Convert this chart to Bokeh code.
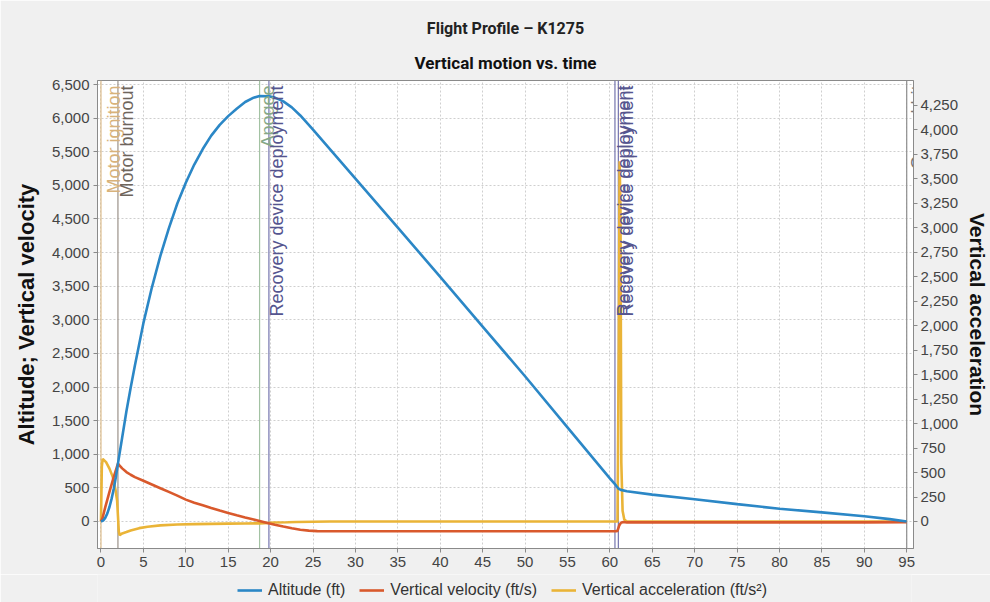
import math

from bokeh.core.properties import value
from bokeh.embed import file_html
from bokeh.layouts import column
from bokeh.models import (FixedTicker, Legend, LegendItem, LinearAxis,
                          NumeralTickFormatter, Range1d, Span, Title)
from bokeh.plotting import figure
from bokeh.resources import INLINE

# ---- flight data -----------------------------------------------------------
# altitude (ft) vs time (s)
t_alt = [0, 0.25, 0.5, 0.75, 1.0, 1.25, 1.5, 1.75, 2.0, 2.5, 3.0, 3.5, 4.0,
         5.0, 6.0, 7.0, 8.0, 9.0, 10.0, 11.0, 12.0, 13.0, 14.0, 15.0, 16.0,
         17.0, 18.0, 18.7, 19.8, 20.5, 21.5, 22.5, 23.5, 25.0, 30.0, 35.0,
         40.0, 45.0, 50.0, 55.0, 60.0, 60.7, 61.0, 61.3, 62.0, 65.0, 70.0,
         75.0, 80.0, 85.0, 90.0, 93.0, 95.0]
altitude = [0, 13, 54, 121, 215, 336, 484, 658, 860, 1250, 1640, 1990, 2320,
            2950, 3480, 3950, 4360, 4730, 5040, 5310, 5540, 5740, 5900, 6030,
            6140, 6240, 6305, 6330, 6325, 6305, 6250, 6160, 6040, 5830, 5100,
            4370, 3640, 2900, 2160, 1400, 640, 540, 490, 470, 450, 400, 330,
            258, 190, 135, 78, 35, 0]

# vertical velocity (ft/s) vs time (s)
t_vel = [0, 0.2, 0.5, 1.0, 1.5, 2.0, 2.2, 2.5, 3.0, 3.5, 4.0, 5.0, 6.0, 7.0,
         8.0, 9.0, 10.0, 11.0, 12.0, 13.0, 14.0, 15.0, 16.0, 17.0, 18.0, 18.7,
         19.5, 20.5, 21.5, 22.5, 23.5, 24.5, 25.5, 27.0, 30.0, 40.0, 50.0,
         60.0, 60.7, 60.9, 61.1, 61.3, 61.6, 62.0, 70.0, 80.0, 90.0, 95.0]
velocity = [0, 60, 210, 440, 660, 860, 830, 790, 735, 695, 660, 605, 550, 495,
            440, 385, 325, 280, 240, 200, 162, 126, 92, 60, 30, 8,
            -20, -48, -75, -100, -122, -136, -143, -146, -146, -146, -146,
            -146, -146, -140, -60, -20, -8, -14, -14, -13, -13, -10]

# vertical acceleration (ft/s^2) vs time (s)
t_acc = [0, 0.1, 0.2, 0.6, 1.0, 1.4, 1.7, 1.9, 2.0, 2.1, 2.2, 2.5, 3.0, 3.5,
         4.5, 5.5, 7.0, 9.0, 11.0, 13.0, 15.0, 17.0, 18.7, 19.8, 20.5, 22.0,
         23.0, 25.0, 27.0, 30.0, 40.0, 50.0, 60.0, 60.9, 61.05, 61.15, 61.25,
         61.35, 61.5, 61.7, 62.0, 70.0, 80.0, 90.0, 95.0]
accel = [0, 560, 640, 606, 540, 453, 330, 215, 60, -100, -140, -122, -108,
         -92, -68, -53, -40, -31, -27, -24, -22, -20, -19, -14, -10, -8, -6,
         -3, 0, 0, 0, 0, 0, 0, 1800, 3680, 3200, 600, 110, 20, 0, 0, 0, 0, 0]

# flight events
event_times = [0.0, 2.0, 18.7, 19.8, 60.6, 61.0, 95.0]
event_names = ["Motor ignition", "Motor burnout", "Apogee",
               "Recovery device deployment", "Recovery device deployment",
               "Recovery device deployment", "Ground hit"]
event_line_colors = ["#dcbc8a", "#9a9189", "#a3c2a3", "#7474ae", "#7474ae",
                     "#7474ae", "#8c8c8c"]
event_text_colors = ["#d8b27a", "#6e655c", "#86a886", "#55558f", "#55558f",
                     "#55558f", "#777777"]
# horizontal gap (px) between each marker line and its label baseline
event_label_gap = [13, 9, 8, 8, 9, 9, 11]

# axis ticks
x_ticks = list(range(0, 96, 5))
left_ticks = list(range(0, 6501, 500))
right_ticks = list(range(0, 4251, 250))

# ---- styling ---------------------------------------------------------------
BLUE = "#2b87c6"
ORANGE = "#d9592c"
YELLOW = "#eab437"
BG = "#f0f0f0"
FONT = "Liberation Sans"

X0, X1 = -0.41, 95.8
Y0, Y1 = -402, 6560
A0, A1 = -276, 4505
FRAME_W, FRAME_H = 816, 468

p = figure(frame_width=FRAME_W, frame_height=FRAME_H, output_backend="svg",
           toolbar_location=None,
           x_range=Range1d(X0, X1), y_range=Range1d(Y0, Y1),
           min_border_left=97, min_border_right=77, min_border_top=80,
           min_border_bottom=26)
p.extra_y_ranges = {"acc": Range1d(A0, A1)}

p.background_fill_color = "white"
p.border_fill_color = BG
p.outline_line_color = "#8a8a8a"

p.xgrid.grid_line_color = "#cfcfcf"
p.xgrid.grid_line_dash = "2 2"
p.ygrid.grid_line_color = "#cfcfcf"
p.ygrid.grid_line_dash = "2 2"

right_axis = LinearAxis(y_range_name="acc", axis_label="Vertical acceleration")
p.add_layout(right_axis, "right")

p.xaxis.ticker = FixedTicker(ticks=x_ticks)
p.yaxis[0].ticker = FixedTicker(ticks=left_ticks)
right_axis.ticker = FixedTicker(ticks=right_ticks)
p.yaxis[0].axis_label = "Altitude; Vertical velocity"

for ax in [p.xaxis[0], p.yaxis[0], right_axis]:
    ax.formatter = NumeralTickFormatter(format="0,0")
    ax.axis_line_color = "#8a8a8a"
    ax.major_tick_line_color = "#8a8a8a"
    ax.major_tick_out = 4
    ax.major_tick_in = 0
    ax.minor_tick_line_color = None
    ax.major_label_text_font = FONT
    ax.major_label_text_font_size = "15px"
    ax.major_label_text_color = "#444444"
    ax.major_label_standoff = 4
    ax.axis_label_text_font = FONT
    ax.axis_label_text_font_size = "21px"
    ax.axis_label_text_font_style = "bold"
    ax.axis_label_text_color = "#111111"
    ax.axis_label_standoff = 10
p.yaxis[0].axis_label_text_font_size = "22px"
right_axis.major_label_standoff = 3
right_axis.axis_label_standoff = 5

# event markers under the data
for t, c in zip(event_times, event_line_colors):
    p.add_layout(Span(location=t, dimension="height", line_color=c,
                      line_width=1.2, level="underlay"))

# data series
r_acc = p.line(t_acc, accel, y_range_name="acc", line_color=YELLOW,
               line_width=2.6)
r_vel = p.line(t_vel, velocity, line_color=ORANGE, line_width=2.6)
r_alt = p.line(t_alt, altitude, line_color=BLUE, line_width=2.6)

# event labels, vertical, hanging from the top of the plot area
units_per_px = (Y1 - Y0) / FRAME_H
label_y = Y1 - 5 * units_per_px
p.text(x=event_times, y=[label_y] * len(event_times), text=event_names,
       angle=math.pi / 2, text_align="right", text_baseline="alphabetic",
       x_offset=event_label_gap, text_font=value(FONT),
       text_font_size="18px", text_color=event_text_colors)

sub = Title(text="Vertical motion vs. time", align="center",
            text_font="Roboto", text_font_size="17px",
            text_font_style="bold", text_color="#111111")
sub.standoff = 16
p.add_layout(sub, "above")
p.add_layout(Title(text="Flight Profile – K1275", align="center",
                   text_font="Roboto", text_font_size="16px",
                   text_font_style="bold", text_color="#222222"), "above")

# ---- legend strip under the chart ------------------------------------------
# the key plot repeats the three series outside its visible window, so only
# the legend swatches show
key = figure(width=990, height=28, output_backend="svg", toolbar_location=None,
             x_axis_type=None, y_axis_type=None,
             x_range=Range1d(-3, -2), y_range=Range1d(-3, -2), min_border=0)
key.outline_line_color = None
key.background_fill_color = BG
key.border_fill_color = BG
k_alt = key.line(t_alt, altitude, line_color=BLUE, line_width=2.6)
k_vel = key.line(t_vel, velocity, line_color=ORANGE, line_width=2.6)
k_acc = key.line(t_acc, accel, line_color=YELLOW, line_width=2.6)

legend = Legend(items=[LegendItem(label="Altitude (ft)", renderers=[k_alt]),
                       LegendItem(label="Vertical velocity (ft/s)", renderers=[k_vel]),
                       LegendItem(label="Vertical acceleration (ft/s²)", renderers=[k_acc])],
                orientation="horizontal", location=(138, 1),
                label_text_font=FONT, label_text_font_size="16px",
                label_text_color="#333333", background_fill_alpha=0,
                border_line_alpha=0, glyph_width=25, glyph_height=16,
                label_standoff=6, spacing=14, padding=2, margin=0)
key.add_layout(legend, "center")

open("out.html", "w").write(file_html(column(p, key, spacing=0), INLINE))
